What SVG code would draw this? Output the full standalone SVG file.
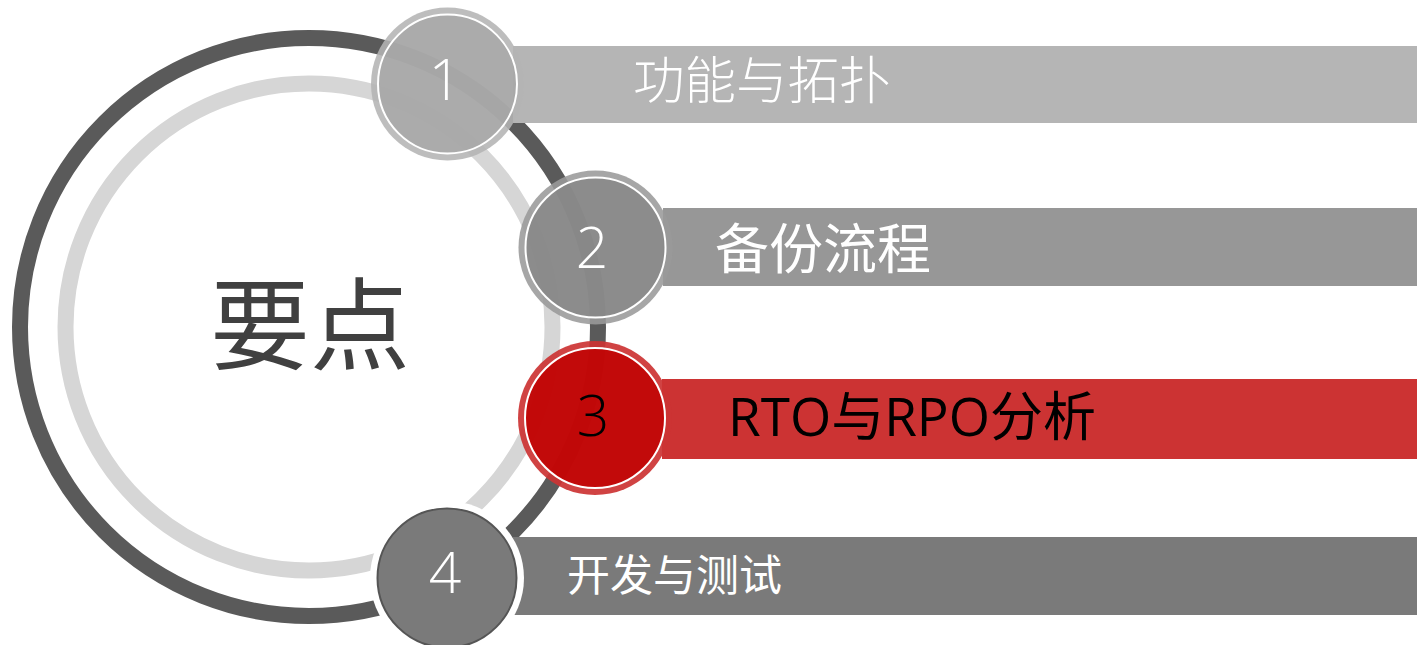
<svg xmlns="http://www.w3.org/2000/svg" width="1417" height="645" viewBox="0 0 1417 645">
<style>
.cjk{font-family:"Noto Sans CJK SC","Noto Sans",sans-serif}
.num{font-family:"Open Sans","Noto Sans",sans-serif;font-weight:300;font-size:57px;text-anchor:middle}
</style>
<rect width="1417" height="645" fill="#ffffff"/>
<g id="rings" fill="none">
<circle cx="309" cy="327" r="289" stroke="#5a5a5a" stroke-width="16"/>
<circle cx="309" cy="327" r="243.5" stroke="#d6d6d6" stroke-width="16"/>
</g>
<g id="bars">
<rect x="513" y="46" width="904" height="77" fill="#b5b5b5"/>
<rect x="663" y="208" width="754" height="78" fill="#979797"/>
<rect x="662" y="379" width="755" height="80" fill="#cc3333"/>
<rect x="513" y="537" width="904" height="78" fill="#7a7a7a"/>
</g>
<g id="node1">
<circle cx="447.5" cy="84" r="76.5" fill="#b4b4b4" fill-opacity="0.88"/>
<circle cx="447.5" cy="84" r="69.5" fill="#a6a6a6" fill-opacity="0.75" stroke="#ffffff" stroke-width="2"/>
<text class="num" x="445" y="100" fill="#ffffff">1</text>
<text class="cjk" x="633" y="99" font-size="51.5" font-weight="300" fill="#ffffff">功能与拓扑</text>
</g>
<g id="node2">
<circle cx="595.5" cy="247.5" r="77" fill="#9a9a9a" fill-opacity="0.88"/>
<circle cx="595.5" cy="247.5" r="70" fill="#868686" fill-opacity="0.8" stroke="#ffffff" stroke-width="2"/>
<text class="num" x="592" y="268" fill="#ffffff">2</text>
<text class="cjk" x="715" y="269" font-size="54" fill="#ffffff">备份流程</text>
</g>
<g id="node3">
<circle cx="595" cy="418" r="77" fill="#cc3333" fill-opacity="0.92"/>
<circle cx="595" cy="418" r="70" fill="#c00000" fill-opacity="0.85" stroke="#ffffff" stroke-width="2"/>
<text class="num" x="593" y="436" fill="#000000">3</text>
<text x="728" y="436" font-family="Open Sans,Noto Sans,Noto Sans CJK SC,sans-serif" font-size="53" fill="#000000">RTO<tspan class="cjk">与</tspan>RPO<tspan class="cjk">分析</tspan></text>
</g>
<g id="node4">
<circle cx="447" cy="578" r="77" fill="#ffffff"/>
<circle cx="447" cy="578" r="69.5" fill="#7a7a7a" stroke="#555555" stroke-width="2"/>
<text class="num" x="445" y="593" fill="#ffffff">4</text>
<text class="cjk" x="567" y="591" font-size="43" fill="#ffffff">开发与测试</text>
</g>
<g id="center">
<text class="cjk" x="310" y="362" font-size="100" fill="#404040" text-anchor="middle">要点</text>
</g>
</svg>
